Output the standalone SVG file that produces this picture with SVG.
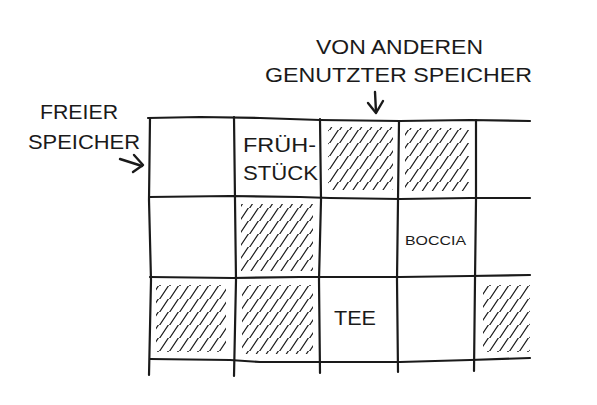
<svg xmlns="http://www.w3.org/2000/svg" width="597" height="405" viewBox="0 0 597 405">
<style>
.g{fill:none;stroke:#1a1a1a;stroke-width:2.2;stroke-linecap:round;stroke-linejoin:round}
.a{fill:none;stroke:#1a1a1a;stroke-width:2.4;stroke-linecap:round;stroke-linejoin:round}
.t{font-family:"Liberation Sans","DejaVu Sans",sans-serif;fill:#1a1a1a;font-size:20px}
.s{font-size:13px}
</style>
<defs>
<pattern id="h" patternUnits="userSpaceOnUse" width="10" height="13">
<path d="M-1,14 L9,-1 M9,14 L19,-1 M-11,14 L-1,-1" stroke="#1a1a1a" stroke-width="1.2" fill="none"/>
</pattern>
</defs>
<rect width="597" height="405" fill="#fff"/>
<g id="hatches">
<rect x="328" y="127" width="65" height="63" fill="url(#h)"/>
<rect x="405" y="128" width="64" height="63" fill="url(#h)"/>
<rect x="241" y="204" width="72" height="67" fill="url(#h)"/>
<rect x="156" y="285" width="70" height="67" fill="url(#h)"/>
<rect x="242" y="285" width="71" height="69" fill="url(#h)"/>
<rect x="483" y="285" width="47" height="67" fill="url(#h)"/>
</g>
<g id="grid" class="g">
<path d="M148,118 L200,117 L260,118 L320,120 L400,121 L470,120 L530,121"/>
<path d="M149,197 L230,196 L300,197 L330,198 L400,199 L470,198 L530,198"/>
<path d="M150,277 L233,278 L300,277 L400,277 L470,276 L530,275"/>
<path d="M150,359 L230,360 L260,362 L320,362 L400,362 L470,360 L530,358"/>
<path d="M150,118 L149,200 L151,280 L149,375"/>
<path d="M234,117 L235,200 L236,280 L234,376"/>
<path d="M320,119 L321,200 L319,280 L320,373"/>
<path d="M399,121 L398,200 L397,280 L398,372"/>
<path d="M476,120 L476,200 L475,280 L474,371"/>
</g>
<g id="connectors" class="a">
<path d="M375,92 L376,112"/>
<path d="M368,103 L376,113 L383,101"/>
<path d="M120,159 L142,166"/>
<path d="M134,155 L143,165 L133,172"/>
</g>
<g id="label-fremd">
<text class="t" x="316" y="54" textLength="167" lengthAdjust="spacingAndGlyphs">VON ANDEREN</text>
<text class="t" x="265" y="82" textLength="267" lengthAdjust="spacingAndGlyphs">GENUTZTER SPEICHER</text>
</g>
<g id="label-frei">
<text class="t" x="40" y="119" textLength="78" lengthAdjust="spacingAndGlyphs">FREIER</text>
<text class="t" x="28" y="149" textLength="112" lengthAdjust="spacingAndGlyphs">SPEICHER</text>
</g>
<g id="cell-fruehstueck">
<text class="t" x="243" y="152" textLength="73" lengthAdjust="spacingAndGlyphs">FRÜH-</text>
<text class="t" x="243" y="180" textLength="75" lengthAdjust="spacingAndGlyphs">STÜCK</text>
</g>
<g id="cell-boccia">
<text class="t s" x="405" y="245" textLength="61" lengthAdjust="spacingAndGlyphs">BOCCIA</text>
</g>
<g id="cell-tee">
<text class="t" x="334" y="325" textLength="42" lengthAdjust="spacingAndGlyphs">TEE</text>
</g>
</svg>
